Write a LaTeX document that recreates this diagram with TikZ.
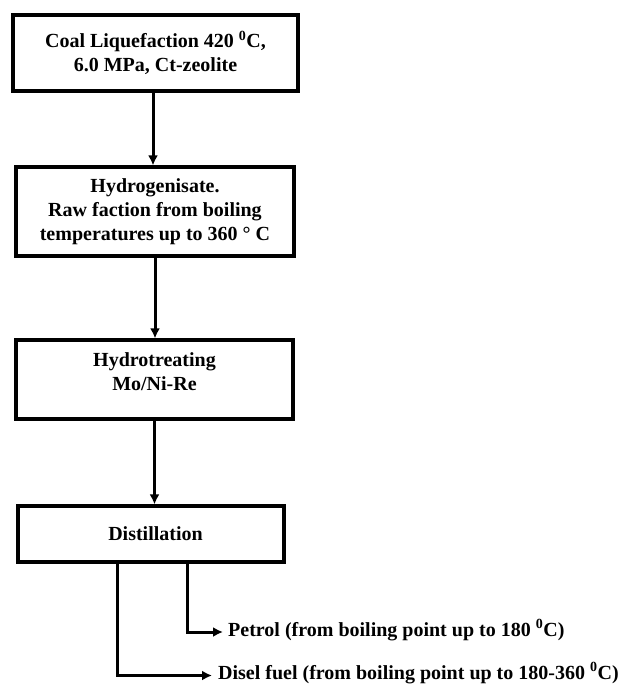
\documentclass[tikz,border=0pt]{standalone}
\usepackage{fontspec}
\setmainfont{Liberation Serif}
\usetikzlibrary{arrows.meta, positioning}
\tikzset{
  procbox/.style={
    draw, line width=3.2pt, align=center, inner sep=2pt,
    font=\bfseries\fontsize{20}{24}\selectfont, fill=white
  },
  outlabel/.style={font=\bfseries\fontsize{20}{24}\selectfont, inner sep=0pt, anchor=base west},
  procarrow/.style={-{Latex[length=10pt, width=10pt]}, line width=3pt},
}
\begin{document}
\begin{tikzpicture}[x=1pt, y=-1pt]
  \useasboundingbox (0,0) rectangle (640,684);
  \node[procbox, minimum width=285pt, minimum height=76pt] (liq) at (155.5,53) {Coal Liquefaction 420 \textsuperscript{0}C,\\6.0 MPa, Ct-zeolite};
  \node[procbox, minimum width=278pt, minimum height=89pt] (hyd) at (155,211.5) {Hydrogenisate.\\Raw faction from boiling\\temperatures up to 360 ° C};
  \node[procbox, minimum width=277pt, minimum height=79pt, text depth=16pt] (tre) at (154.5,379.5) {Hydrotreating\\Mo/Ni-Re};
  \node[procbox, minimum width=266pt, minimum height=56pt] (dis) at (151,534) {\hspace{9pt}Distillation};
  \node[outlabel] (petrol) at (228,636) {Petrol (from boiling point up to 180 \textsuperscript{0}C)};
  \node[outlabel] (disel) at (218,679.5) {Disel fuel (from boiling point up to 180-360 \textsuperscript{0}C)};
  % main line
  \draw[procarrow] ([xshift=-2.5pt]liq.south) -- ([xshift=-2.5pt]liq.south |- hyd.north);
  \draw[procarrow] (hyd.south) -- (hyd.south |- tre.north);
  \draw[procarrow] (tre.south) -- (tre.south |- dis.north);
  % products
  \draw[procarrow] ([xshift=36pt]dis.south) |- ([xshift=-5pt, yshift=4pt]petrol.base west);
  \draw[procarrow] ([xshift=-34pt]dis.south) |- ([xshift=-6pt, yshift=4pt]disel.base west);
\end{tikzpicture}
\end{document}
